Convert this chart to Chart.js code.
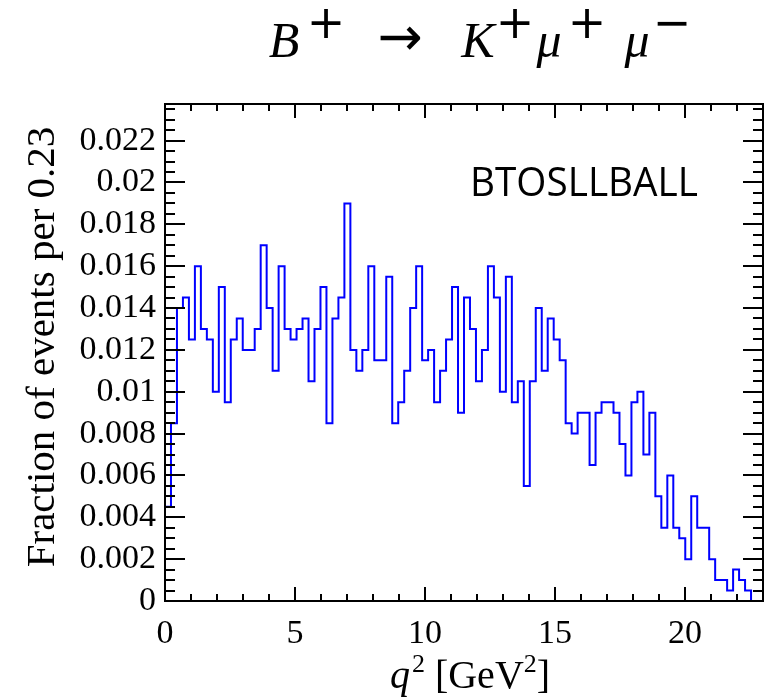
<!DOCTYPE html>
<html>
<head>
<meta charset="utf-8">
<script src="https://cdn.jsdelivr.net/npm/chart.js@4.4.1/dist/chart.umd.min.js"></script>
<style>
  html, body { margin: 0; padding: 0; background: #fff; }
  #wrap { width: 777px; height: 698px; }
</style>
</head>
<body>
<div id="wrap"><canvas id="chart_hist" width="777" height="698"></canvas></div>
<script>
// q^2 histogram, 100 bins of 0.23 GeV^2, fraction of events per bin
const binWidth = 0.23;
const qMin = 0;
const qMax = 23;
const fraction = [
  0.0045, 0.0085, 0.014, 0.0145, 0.0125, 0.016, 0.013, 0.0125, 0.010, 0.015,
  0.0095, 0.0125, 0.0135, 0.012, 0.012, 0.013, 0.017, 0.014, 0.011, 0.016,
  0.013, 0.0125, 0.013, 0.0135, 0.0105, 0.013, 0.015, 0.0085, 0.0135, 0.0145,
  0.019, 0.012, 0.011, 0.012, 0.016, 0.0115, 0.0115, 0.0155, 0.0085, 0.0095,
  0.011, 0.014, 0.016, 0.0115, 0.012, 0.0095, 0.011, 0.0125, 0.015, 0.009,
  0.0145, 0.013, 0.0105, 0.012, 0.016, 0.0145, 0.010, 0.0155, 0.0095, 0.0105,
  0.0055, 0.0105, 0.014, 0.011, 0.0135, 0.0125, 0.0115, 0.0085, 0.008, 0.009,
  0.009, 0.0065, 0.009, 0.0095, 0.0095, 0.009, 0.0075, 0.006, 0.0095, 0.010,
  0.007, 0.009, 0.005, 0.0035, 0.006, 0.0035, 0.003, 0.002, 0.005, 0.0035,
  0.0035, 0.002, 0.001, 0.001, 0.0005, 0.0015, 0.001, 0.0005, 0, 0
];

const xTicks = [0, 5, 10, 15, 20];
const xTickLabels = ['0', '5', '10', '15', '20'];
const yMax = 0.02375;
const yTicks = [0, 0.002, 0.004, 0.006, 0.008, 0.01, 0.012, 0.014, 0.016, 0.018, 0.02, 0.022];
const yTickLabels = ['0', '0.002', '0.004', '0.006', '0.008', '0.01', '0.012', '0.014', '0.016', '0.018', '0.02', '0.022'];

// minor tick spacing (axis style)
const xMinorStep = 1;
const yMinorStep = 0.0005;

// points at bin low edges, stepped so each value covers its bin
function histPoints() {
  let pts = [{ x: qMin, y: 0 }];
  for (let i = 0; i < fraction.length; i++) {
    pts.push({ x: qMin + i * binWidth, y: fraction[i] });
  }
  pts.push({ x: qMax, y: fraction[fraction.length - 1] });
  pts.push({ x: qMax, y: 0 });
  return pts;
}

// frame with inward ticks on all four sides, like the ROOT style
const framePlugin = {
  id: 'frame',
  afterDraw(chart) {
    const ctx = chart.ctx;
    const a = chart.chartArea;
    const xs = chart.scales.x;
    const ys = chart.scales.y;
    ctx.save();
    ctx.strokeStyle = '#000';
    ctx.lineWidth = 2;
    ctx.beginPath();
    // x ticks, bottom and top
    for (let v = qMin; v <= qMax + 1e-9; v += xMinorStep) {
      const px = Math.round(xs.getPixelForValue(v));
      const len = xTicks.includes(Math.round(v)) ? 14 : 7;
      ctx.moveTo(px, a.bottom); ctx.lineTo(px, a.bottom - len);
      ctx.moveTo(px, a.top); ctx.lineTo(px, a.top + len);
    }
    // y ticks, left and right
    for (let k = 0; k * yMinorStep <= yMax + 1e-9; k++) {
      const v = k * yMinorStep;
      const py = Math.round(ys.getPixelForValue(v));
      const len = (k % 4 === 0) ? 20 : 10;
      ctx.moveTo(a.left, py); ctx.lineTo(a.left + len, py);
      ctx.moveTo(a.right, py); ctx.lineTo(a.right - len, py);
    }
    ctx.stroke();
    ctx.strokeRect(a.left, a.top, a.right - a.left, a.bottom - a.top);
    ctx.restore();
  }
};

function drawRuns(ctx, runs, x, y) {
  let cx = x;
  for (const r of runs) {
    ctx.font = r.font;
    ctx.fillText(r.t, cx, y + (r.dy || 0));
    cx += ctx.measureText(r.t).width + (r.gap || 0);
  }
}
function runsWidth(ctx, runs) {
  let w = 0;
  for (const r of runs) {
    ctx.font = r.font;
    w += ctx.measureText(r.t).width + (r.gap || 0);
  }
  return w;
}

const textPlugin = {
  id: 'texts',
  afterDraw(chart) {
    const ctx = chart.ctx;
    ctx.save();
    ctx.fillStyle = '#000';
    ctx.textBaseline = 'alphabetic';

    // main title, each piece centred where it sits in the original
    const it = 'italic 50px "Liberation Serif"';
    const sg = '46px "DejaVu Sans"';
    const title = [
      { t: 'B', font: it, x: 284, y: 57 },
      { t: '+', font: sg, x: 326, y: 38 },
      { t: '\u2192', font: '54px "DejaVu Sans"', x: 400, y: 55 },
      { t: 'K', font: it, x: 478, y: 57 },
      { t: '+', font: sg, x: 515, y: 38 },
      { t: '\u03bc', font: it, x: 549, y: 57 },
      { t: '+', font: sg, x: 587, y: 38 },
      { t: '\u03bc', font: it, x: 637, y: 57 },
      { t: '\u2212', font: sg, x: 672, y: 38 }
    ];
    ctx.textAlign = 'center';
    for (const p of title) {
      ctx.font = p.font;
      ctx.fillText(p.t, p.x, p.y);
    }
    ctx.textAlign = 'left';

    // x axis title
    const xf = '40px "Liberation Serif"';
    const xs2 = '26px "Liberation Serif"';
    const xRuns = [
      { t: 'q', font: 'italic 40px "Liberation Serif"', gap: 2 },
      { t: '2', font: xs2, dy: -16 },
      { t: ' [GeV', font: xf },
      { t: '2', font: xs2, dy: -16 },
      { t: ']', font: xf }
    ];
    const xw = runsWidth(ctx, xRuns);
    drawRuns(ctx, xRuns, 470 - xw / 2, 688);

    // y axis title
    ctx.save();
    ctx.translate(54, 347);
    ctx.rotate(-Math.PI / 2);
    ctx.textAlign = 'center';
    ctx.font = '41px "Liberation Serif"';
    ctx.fillText('Fraction of events per 0.23', 0, 0);
    ctx.restore();

    // generator label
    ctx.font = '40px "Open Sans"';
    ctx.textAlign = 'left';
    const lbl = 'BTOSLLBALL';
    const w = ctx.measureText(lbl).width;
    ctx.save();
    ctx.translate(470, 196);
    ctx.scale(228 / w, 1);
    ctx.fillText(lbl, 0, 0);
    ctx.restore();

    ctx.restore();
  }
};

const tickFont = { family: 'Liberation Serif', size: 34 };

new Chart(document.getElementById('chart_hist').getContext('2d'), {
  type: 'line',
  data: {
    datasets: [{
      data: histPoints(),
      stepped: true,
      borderColor: '#0000ff',
      borderWidth: 2,
      pointRadius: 0,
      fill: false,
      tension: 0
    }]
  },
  options: {
    responsive: false,
    animation: false,
    layout: { padding: { top: 104, right: 14, bottom: 0, left: 0 } },
    plugins: {
      legend: { display: false },
      tooltip: { enabled: false },
      title: { display: false }
    },
    scales: {
      x: {
        type: 'linear',
        min: qMin,
        max: qMax,
        grid: { display: false, drawTicks: false },
        border: { display: false },
        afterBuildTicks: (s) => { s.ticks = xTicks.map(v => ({ value: v })); },
        afterFit: (s) => { s.height = 97; },
        ticks: {
          font: tickFont,
          color: '#000',
          padding: 13,
          maxRotation: 0,
          autoSkip: false,
          callback: (v, i) => xTickLabels[i]
        }
      },
      y: {
        type: 'linear',
        min: 0,
        max: yMax,
        grid: { display: false, drawTicks: false },
        border: { display: false },
        afterBuildTicks: (s) => { s.ticks = yTicks.map(v => ({ value: v })); },
        afterFit: (s) => { s.width = 165; },
        ticks: {
          font: tickFont,
          color: '#000',
          padding: 9,
          autoSkip: false,
          callback: (v, i) => yTickLabels[i]
        }
      }
    }
  },
  plugins: [framePlugin, textPlugin]
});
</script>
</body>
</html>
